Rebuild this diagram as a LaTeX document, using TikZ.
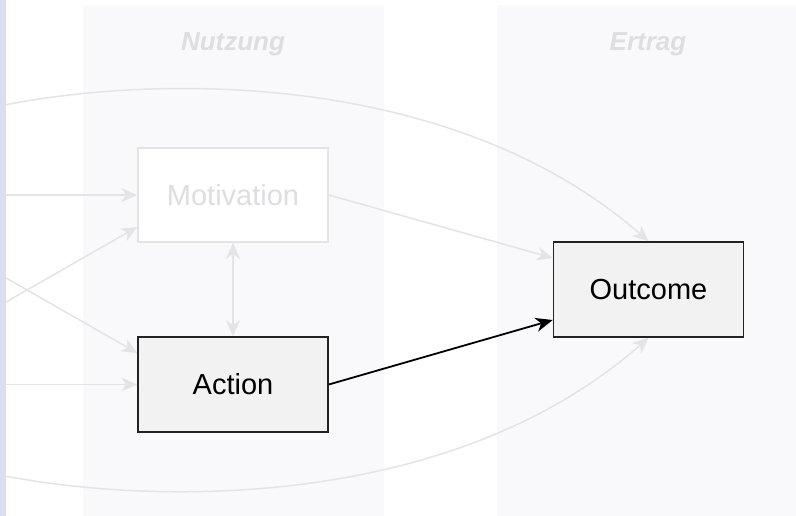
\documentclass[tikz,border=0pt]{standalone}
\usepackage{fontspec}
\setmainfont{Liberation Sans}
\usetikzlibrary{arrows.meta,calc}
\definecolor{stripc}{HTML}{D9DFF0}
\definecolor{panelc}{HTML}{F9F9FC}
\definecolor{faintc}{HTML}{E4E4E4}
\definecolor{faintt}{HTML}{DEDEE0}
\definecolor{boxfill}{HTML}{F2F2F2}
\definecolor{boxline}{HTML}{222222}
\tikzset{
  panel/.style={fill=panelc, draw=none},
  lanelabel/.style={text=faintt, font=\fontsize{26}{30}\selectfont\bfseries\itshape},
  activebox/.style={draw=boxline, line width=1.6pt, fill=boxfill, minimum width=190pt, minimum height=95pt, inner sep=0pt, font=\fontsize{29}{34}\selectfont, text=black},
  fadedbox/.style={draw=faintc, line width=1.6pt, fill=white, minimum width=190pt, minimum height=94pt, inner sep=0pt, font=\fontsize{29}{34}\selectfont, text=faintt},
  fadedarrow/.style={draw=faintc, line width=1.5pt, -{Stealth[length=16pt,width=14pt,inset=5pt]}},
  fadedboth/.style={draw=faintc, line width=1.5pt, {Stealth[length=16pt,width=14pt,inset=5pt]}-{Stealth[length=16pt,width=14pt,inset=5pt]}},
  activearrow/.style={draw=black, line width=1.8pt, -{Stealth[length=17pt,width=14pt,inset=5pt]}},
}
\begin{document}
\begin{tikzpicture}[x=1pt,y=-1pt]
\useasboundingbox (0,0) rectangle (796,516);
\fill[white] (0,0) rectangle (796,516);
% panels
\fill[panel] (83,5) rectangle (384,516);
\fill[panel] (497,5) rectangle (796,516);
\node[lanelabel] (lnutz) at (233,44) {Nutzung};
\node[lanelabel] (lertr) at (648,44) {Ertrag};
% nodes
\node[fadedbox] (mot) at (233,195) {Motivation};
\node[activebox] (act) at (233,384.5) {Action};
\node[activebox] (out) at (648.5,289.5) {Outcome};
% off-picture sources
\coordinate (s1) at (0,195);
\coordinate (s2) at (0,305.5);
\coordinate (s3) at (0,274.5);
\coordinate (s4) at (0,384.5);
\coordinate (s5) at (0,106);
\coordinate (s6) at (0,475);
% faded connectors
\draw[fadedarrow] (s1) -- (mot.west);
\draw[fadedarrow] (s2) -- ([yshift=-32pt]mot.west);
\draw[fadedarrow] (s3) -- ([yshift=31.5pt]act.west);
\draw[fadedarrow] (s4) -- (act.west);
\draw[fadedboth] (mot.south) -- (act.north);
\draw[fadedarrow] (mot.east) -- ([yshift=31.5pt]out.west);
\draw[fadedarrow] (s5) .. controls (150,75) and (450,68) .. (out.north);
\draw[fadedarrow] (s6) .. controls (150,505) and (450,512) .. (out.south);
% active connector
\draw[activearrow] (act.east) -- ([yshift=-30.5pt]out.west);
% left strip
\fill[stripc] (0,0) rectangle (6,516);
\end{tikzpicture}
\end{document}
